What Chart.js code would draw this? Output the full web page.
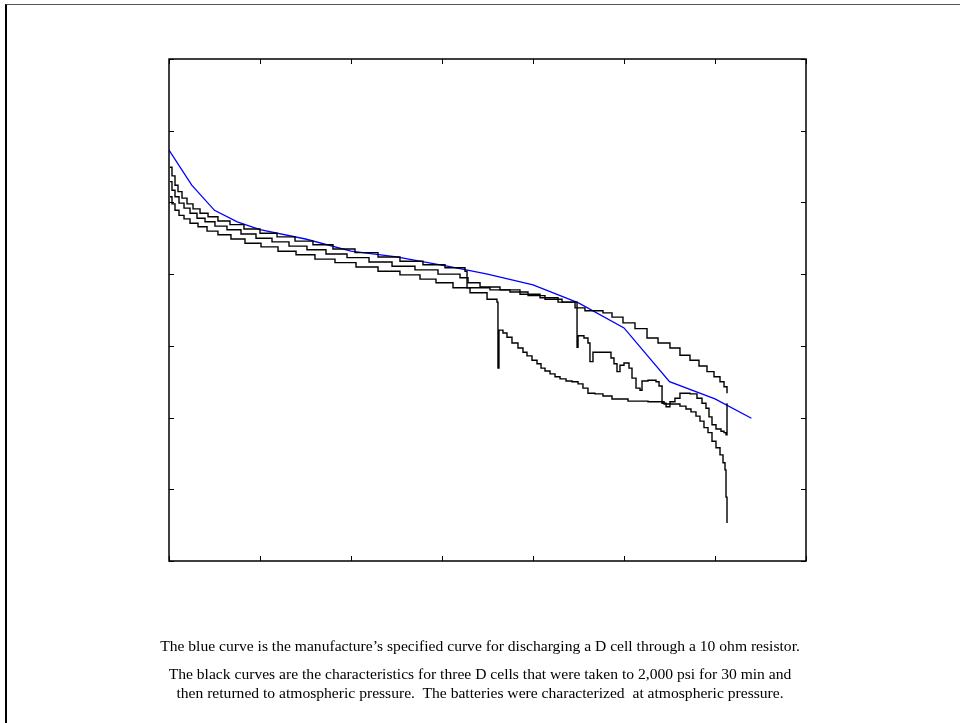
<!DOCTYPE html>
<html>
<head>
<meta charset="utf-8">
<script src="https://cdn.jsdelivr.net/npm/chart.js@4.4.1/dist/chart.umd.min.js"></script>
<style>
  body { margin: 0; background: #fff; }
  #wrap { position: relative; width: 960px; height: 723px; overflow: hidden; }
  #frame { position: absolute; left: 5px; top: 4px; width: 1000px; height: 800px;
           border-left: 2px solid #000; border-top: 1px solid #555; }
  canvas { position: absolute; left: 0; top: 0; }
  .note { position: absolute; left: 0; width: 960px; text-align: center;
          font-family: "Liberation Serif", "Times New Roman", serif; font-size: 15.6px; color: #000; }
</style>
</head>
<body>
<div id="wrap">
  <div id="frame"></div>
  <canvas id="myChart" width="960" height="723"></canvas>
  <div class="note" style="top:637px">The blue curve is the manufacture’s specified curve for discharging a D cell through a 10 ohm resistor.</div>
  <div class="note" style="top:665px">The black curves are the characteristics for three D cells that were taken to 2,000 psi for 30 min and</div>
  <div class="note" style="top:684px">then returned to atmospheric pressure.&nbsp; The batteries were characterized&nbsp; at atmospheric pressure.</div>
</div>
<script>
// manufacturer curve (blue)
const spec_h = [0, 2.5, 5, 7.5, 10, 15, 20, 25, 31, 35, 40, 45, 50, 55, 60, 64]
const spec_v = [1.373, 1.324, 1.289, 1.273, 1.262, 1.249, 1.232, 1.224, 1.210, 1.200, 1.185, 1.160, 1.125, 1.050, 1.026, 0.999]

// cell 1
const cell1_h = [0.11, 0.33, 0.66, 0.99, 1.43, 1.98, 2.64, 3.41, 4.29, 5.38, 6.70, 8.24, 10.0, 11.87, 13.85, 15.82, 18.02, 20.44, 22.97, 25.38, 27.91, 30.33, 32.53,
  32.75, 35.27, 37.47, 39.45, 41.32, 43.19, 44.84, 44.84, 44.95, 45.60, 46.04, 46.26, 46.59, 48.02, 48.57, 48.90, 49.23, 49.56, 50.0, 50.55, 50.88, 51.32,
  51.76, 51.98, 52.64, 53.52, 53.85, 54.18, 54.62, 55.05, 55.60, 56.15, 57.25, 58.02, 58.57, 59.01, 59.34, 59.67, 60.11, 60.66, 60.99, 61.21, 61.32]
const cell1_v = [1.349, 1.337, 1.324, 1.315, 1.306, 1.298, 1.291, 1.285, 1.280, 1.274, 1.269, 1.263, 1.257, 1.252, 1.246, 1.241, 1.235, 1.230, 1.224, 1.218, 1.213, 1.209, 1.204,
  1.181, 1.178, 1.175, 1.170, 1.165, 1.161, 1.156, 1.098, 1.114, 1.111, 1.104, 1.078, 1.091, 1.091, 1.083, 1.075, 1.064, 1.073, 1.076, 1.069, 1.055, 1.041,
  1.038, 1.051, 1.052, 1.050, 1.044, 1.020, 1.015, 1.022, 1.027, 1.034, 1.033, 1.027, 1.020, 1.013, 1.001, 0.990, 0.984, 0.981, 0.979, 0.976, 1.020]

// cell 2
const cell2_h = [0.11, 0.33, 0.66, 1.10, 1.65, 2.31, 3.08, 3.96, 5.05, 6.37, 7.91, 9.56, 11.32, 13.19, 15.16, 17.25, 19.56, 21.98, 24.51, 27.03, 29.56, 31.98,
  32.86, 34.18, 36.37, 38.57, 40.77, 42.75, 44.62, 45.71, 47.69, 48.68, 49.89, 51.21, 52.53, 53.74, 55.05, 56.15, 57.25, 58.24, 59.12, 59.89, 60.55, 60.99, 61.32]
const cell2_v = [1.329, 1.317, 1.308, 1.299, 1.292, 1.285, 1.278, 1.273, 1.267, 1.262, 1.256, 1.250, 1.245, 1.239, 1.234, 1.228, 1.223, 1.217, 1.211, 1.206, 1.200, 1.195,
  1.188, 1.182, 1.178, 1.172, 1.167, 1.161, 1.153, 1.149, 1.146, 1.140, 1.132, 1.124, 1.111, 1.104, 1.097, 1.087, 1.080, 1.072, 1.064, 1.057, 1.050, 1.043, 1.034]

// cell 3
const cell3_h = [0.11, 0.33, 0.66, 1.10, 1.65, 2.31, 3.19, 4.18, 5.38, 6.81, 8.35, 10.11, 11.98, 13.96, 16.04, 18.24, 20.55, 22.97, 25.38, 27.58, 29.34, 31.21, 33.08, 34.95, 36.04,
  36.15, 36.26, 36.70, 37.14, 37.69, 38.35, 38.90, 39.34, 39.89, 40.44, 40.88, 41.32, 41.87, 42.42, 42.97, 43.63, 44.29, 44.95, 45.49, 46.04, 46.81, 47.69, 48.68,
  50.44, 52.64, 54.40, 56.15, 56.81, 57.36, 57.91, 58.35, 58.79, 59.23, 59.67, 60.11, 60.55, 60.88, 61.10, 61.21, 61.21, 61.32]
const cell3_v = [1.308, 1.298, 1.289, 1.282, 1.277, 1.271, 1.266, 1.260, 1.255, 1.249, 1.243, 1.238, 1.232, 1.227, 1.221, 1.216, 1.210, 1.204, 1.199, 1.193, 1.188, 1.181, 1.174, 1.165, 1.161,
  1.069, 1.122, 1.118, 1.112, 1.104, 1.097, 1.091, 1.086, 1.080, 1.075, 1.069, 1.065, 1.061, 1.057, 1.054, 1.051, 1.050, 1.047, 1.041, 1.034, 1.033, 1.030, 1.026,
  1.023, 1.022, 1.019, 1.016, 1.012, 1.008, 1.002, 0.995, 0.986, 0.979, 0.967, 0.958, 0.948, 0.937, 0.927, 0.913, 0.889, 0.853]

function puntos(hs, vs){
    return hs.map((h, i) => ({x: h, y: vs[i]}))
}

// marco y marcas hacia adentro
const marcoPlugin = {
    id: 'marco',
    afterDraw(chart){
        const c = chart.ctx
        const a = chart.chartArea
        const sx = chart.scales.x
        const sy = chart.scales.y
        c.save()
        c.strokeStyle = '#000'
        c.lineWidth = 1.5
        c.strokeRect(a.left, a.top, a.right - a.left, a.bottom - a.top)
        c.lineWidth = 1
        c.beginPath()
        sx.ticks.forEach(t => {
            const px = Math.round(sx.getPixelForValue(t.value)) + 0.5
            c.moveTo(px, a.bottom); c.lineTo(px, a.bottom - 5)
            c.moveTo(px, a.top); c.lineTo(px, a.top + 5)
        })
        sy.ticks.forEach(t => {
            const py = Math.round(sy.getPixelForValue(t.value)) + 0.5
            c.moveTo(a.left, py); c.lineTo(a.left + 5, py)
            c.moveTo(a.right, py); c.lineTo(a.right - 5, py)
        })
        c.stroke()
        c.restore()
    }
}

const negro = {borderColor: '#000', borderWidth: 1.4, pointRadius: 0, showLine: true, stepped: true, fill: false}

new Chart(document.getElementById('myChart'), {
    type: 'scatter',
    data: {
        datasets: [
            {label: 'cell 1', data: puntos(cell1_h, cell1_v), ...negro},
            {label: 'cell 2', data: puntos(cell2_h, cell2_v), ...negro},
            {label: 'cell 3', data: puntos(cell3_h, cell3_v), ...negro},
            {label: 'spec', data: puntos(spec_h, spec_v), borderColor: '#0000ff', borderWidth: 1.3,
             pointRadius: 0, showLine: true, fill: false}
        ]
    },
    options: {
        responsive: false,
        animation: false,
        layout: {padding: {left: 169, top: 59, right: 154, bottom: 162}},
        plugins: {legend: {display: false}, tooltip: {enabled: false}},
        scales: {
            x: {type: 'linear', display: false, min: 0, max: 70, ticks: {stepSize: 10}},
            y: {type: 'linear', display: false, min: 0.8, max: 1.5, ticks: {stepSize: 0.1}}
        }
    },
    plugins: [marcoPlugin]
})
</script>
</body>
</html>
